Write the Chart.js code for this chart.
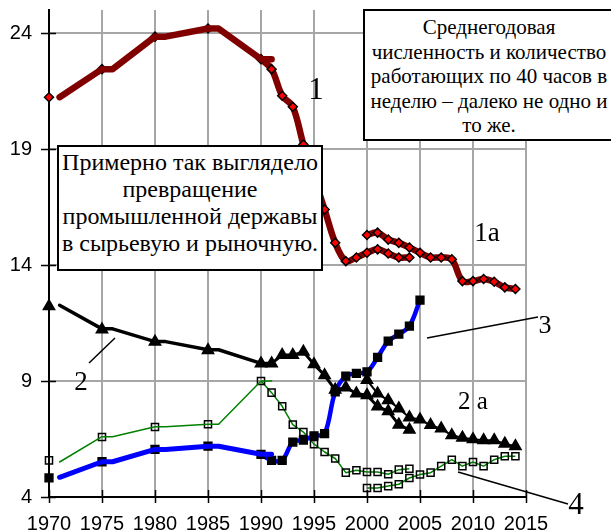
<!DOCTYPE html>
<html>
<head>
<meta charset="utf-8">
<script src="https://cdn.jsdelivr.net/npm/chart.js@4/dist/chart.umd.min.js"></script>
<style>
  html, body { margin: 0; padding: 0; background: #fff; }
  #wrap { position: relative; width: 611px; height: 532px; overflow: hidden; }
  canvas { position: absolute; left: 0; top: 0; }
  .box { position: absolute; box-sizing: border-box; border: 2px solid #000; background: #fff;
         font-family: "Liberation Serif", "Times New Roman", serif; color: #000; text-align: center; }
  .lbl { position: absolute; font-family: "Liberation Serif", "Times New Roman", serif; color: #000;
         line-height: 1; transform: translate(-50%, -50%); white-space: nowrap; }
</style>
</head>
<body>
<div id="wrap">
  <canvas id="c" width="611" height="532"></canvas>
  <div class="box" style="left:363px; top:9px; width:252px; height:132px; font-size:21px; line-height:24.5px; padding-top:4px;">Среднегодовая<br>численность и количество<br>работающих по 40 часов в<br>неделю – далеко не одно и<br>то же.</div>
  <div class="box" style="left:57px; top:145px; width:266px; height:126px; font-size:24px; line-height:27px; padding-top:2px; white-space:nowrap;">Примерно так выглядело<br>превращение<br>промышленной державы<br>в сырьевую и рыночную.</div>
  <div class="lbl" style="left:316px; top:88px; font-size:31px;">1</div>
  <div class="lbl" style="left:487px; top:232px; font-size:27px;">1a</div>
  <div class="lbl" style="left:545px; top:325px; font-size:26px;">3</div>
  <div class="lbl" style="left:81px; top:381px; font-size:27px;">2</div>
  <div class="lbl" style="left:473px; top:400px; font-size:25px;">2 a</div>
  <div class="lbl" style="left:576px; top:503px; font-size:31px;">4</div>
</div>
<script>
// ---- data ----
const yearTicks = [1970, 1975, 1980, 1985, 1990, 1995, 2000, 2005, 2010, 2015];
const valueTicks = [4, 9, 14, 19, 24];

const earlyLineYears = [1971, 1975, 1976, 1980, 1981, 1985, 1986, 1990, 1991];
const earlyMarkYears = [1970, 1975, 1980, 1985];
const lateAYears = [1990, 1991, 1992, 1993, 1994, 1995, 1996, 1997, 1998, 1999, 2000, 2001, 2002, 2003, 2004];
const late3Years = [1990, 1991, 1992, 1993, 1994, 1995, 1996, 1997, 1998, 1999, 2000, 2001, 2002, 2003, 2004, 2005];
const lateBYears = [2000, 2001, 2002, 2003, 2004, 2005, 2006, 2007, 2008, 2009, 2010, 2011, 2012, 2013, 2014];

// Series 1 / 1a (dark red)
const s1EarlyLine = [21.24, 22.45, 22.45, 23.85, 23.85, 24.2, 24.2, 22.88, 22.88];
const s1EarlyMarks = [21.24, 22.45, 23.85, 24.2];
const s1LateA = [22.88, 22.45, 21.3, 20.83, 19.2, 17.8, 16.4, 14.96, 14.17, 14.33, 14.53, 14.68, 14.5, 14.33, 14.33];
const s1LateB = [15.3, 15.4, 15.1, 14.96, 14.76, 14.53, 14.33, 14.33, 14.25, 13.31, 13.31, 13.4, 13.28, 13.04, 12.97];

// Series 2 / 2a (black, triangles)
const s2EarlyLine = [12.27, 11.25, 11.25, 10.7, 10.7, 10.35, 10.35, 9.76, 9.76];
const s2EarlyMarks = [12.22, 11.22, 10.69, 10.33];
const s2LateA = [9.76, 9.76, 10.12, 10.12, 10.26, 9.72, 9.25, 8.62, 8.72, 8.46, 8.39, 7.9, 7.7, 7.12, 6.9];
const s2LateB = [9.04, 8.46, 8.17, 7.82, 7.43, 7.34, 7.1, 6.95, 6.66, 6.56, 6.49, 6.45, 6.45, 6.3, 6.19];

// Series 3 (blue, filled squares)
const s3EarlyLine = [4.85, 5.52, 5.52, 6.05, 6.05, 6.19, 6.19, 5.84, 5.84];
const s3EarlyMarks = [4.82, 5.52, 6.05, 6.19];
const s3Late = [5.84, 5.58, 5.58, 6.37, 6.45, 6.64, 6.73, 8.53, 9.21, 9.33, 9.4, 10.02, 10.72, 11.02, 11.37, 12.49];

// Series 4 (green, hollow squares)
const s4EarlyLine = [5.51, 6.6, 6.6, 7.03, 7.03, 7.14, 7.14, 9.0, 9.0];
const s4EarlyMarks = [5.58, 6.59, 7.02, 7.14];
const s4LateA = [9.0, 8.5, 7.91, 7.12, 6.8, 6.28, 5.94, 5.66, 5.05, 5.15, 5.08, 5.08, 4.98, 5.18, 5.22];
const s4LateB = [4.39, 4.39, 4.47, 4.55, 4.82, 4.97, 5.05, 5.33, 5.61, 5.33, 5.51, 5.33, 5.61, 5.76, 5.76];

// ---- helpers ----
const pts = (xs, ys) => xs.map((x, i) => ({ x: x, y: ys[i] }));
function lineDs(xs, ys, color, width, tension) {
  return { data: pts(xs, ys), borderColor: color, borderWidth: width, pointRadius: 0, clip: false,
           tension: tension || 0, fill: false, borderCapStyle: 'round', borderJoinStyle: 'round' };
}
function markDs(xs, ys, color, width, tension, style, radius, bg, showLine) {
  return { data: pts(xs, ys), borderColor: color, borderWidth: width, tension: tension || 0, clip: false,
           showLine: showLine !== false, fill: false, borderJoinStyle: 'round',
           pointStyle: style, pointRadius: radius, pointBackgroundColor: bg,
           pointBorderColor: '#000', pointBorderWidth: 1.5 };
}

const MAROON = '#800000', BLUE = '#0000ff', GREEN = '#008000', BLACK = '#000000';

const datasets = [
  // top-most first
  lineDs(earlyLineYears, s2EarlyLine, BLACK, 3.5),
  markDs(earlyMarkYears, s2EarlyMarks, BLACK, 0, 0, 'triangle', 6.5, BLACK, false),
  markDs(lateAYears, s2LateA, BLACK, 3, 0, 'triangle', 6.5, BLACK),
  markDs(lateBYears, s2LateB, BLACK, 2, 0, 'triangle', 6.5, BLACK),
  lineDs(earlyLineYears, s3EarlyLine, BLUE, 5),
  markDs(earlyMarkYears, s3EarlyMarks, BLUE, 0, 0, 'rect', 5.5, BLACK, false),
  markDs(late3Years, s3Late, BLUE, 4.5, 0.35, 'rect', 5.5, BLACK),
  lineDs(earlyLineYears, s4EarlyLine, GREEN, 1.5),
  markDs(earlyMarkYears, s4EarlyMarks, GREEN, 0, 0, 'rect', 5, 'rgba(255,255,255,0)', false),
  markDs(lateAYears, s4LateA, GREEN, 1.5, 0, 'rect', 5, 'rgba(255,255,255,0)'),
  markDs(lateBYears, s4LateB, GREEN, 1.5, 0, 'rect', 5, 'rgba(255,255,255,0)'),
  lineDs(earlyLineYears, s1EarlyLine, MAROON, 6.5),
  markDs(earlyMarkYears, s1EarlyMarks, MAROON, 0, 0, 'rectRot', 4.5, '#ff0000', false),
  markDs(lateAYears, s1LateA, MAROON, 6.5, 0.35, 'rectRot', 4.5, '#ff0000'),
  markDs(lateBYears, s1LateB, MAROON, 6.5, 0.35, 'rectRot', 4.5, '#ff0000')
];

const crossTicks = {
  id: 'crossTicks',
  beforeDatasetsDraw(chart) {
    const ctx = chart.ctx, xs = chart.scales.x, ys = chart.scales.y, a = chart.chartArea;
    ctx.save();
    ctx.strokeStyle = '#000';
    ctx.lineWidth = 1.5;
    ctx.beginPath();
    valueTicks.forEach(v => { const y = Math.round(ys.getPixelForValue(v)) + 0.5; ctx.moveTo(a.left - 8, y); ctx.lineTo(a.left + 7, y); });
    yearTicks.forEach(v => { const x = Math.round(xs.getPixelForValue(v)) + 0.5; ctx.moveTo(x, a.bottom - 7); ctx.lineTo(x, a.bottom + 6); });
    ctx.stroke();
    ctx.restore();
  },
  afterDraw(chart) {
    const ctx = chart.ctx;
    ctx.save();
    ctx.strokeStyle = '#000';
    ctx.lineWidth = 1.5;
    ctx.beginPath();
    ctx.moveTo(89, 363); ctx.lineTo(115, 338);
    ctx.moveTo(427, 338); ctx.lineTo(538, 317);
    ctx.moveTo(458, 472); ctx.lineTo(568, 504);
    ctx.stroke();
    ctx.restore();
  }
};

new Chart(document.getElementById('c'), {
  type: 'line',
  data: { datasets: datasets },
  options: {
    responsive: false,
    animation: false,
    events: [],
    layout: { padding: { top: 10, right: 85, left: 0, bottom: 0 } },
    plugins: { legend: { display: false }, tooltip: { enabled: false } },
    scales: {
      x: {
        type: 'linear', min: 1970, max: 2015,
        afterBuildTicks: (s) => { s.ticks = yearTicks.map(v => ({ value: v })); },
        afterFit: (s) => { s.height = 35; s.paddingLeft = 0; s.paddingRight = 0; },
        ticks: { color: '#000', font: { family: '"Liberation Sans", Arial, sans-serif', size: 20 }, padding: 15,
                 maxRotation: 0, autoSkip: false, callback: (v) => String(v) },
        grid: { color: '#a6a6a6', lineWidth: 2, drawTicks: false },
        border: { display: true, color: '#000', width: 2 }
      },
      y: {
        type: 'linear', min: 4, max: 25,
        afterBuildTicks: (s) => { s.ticks = valueTicks.map(v => ({ value: v })); },
        afterFit: (s) => { s.width = 49; s.paddingTop = 0; s.paddingBottom = 0; },
        ticks: { color: '#000', font: { family: '"Liberation Sans", Arial, sans-serif', size: 20 }, padding: 17,
                 callback: (v) => String(v) },
        grid: { color: '#a6a6a6', lineWidth: 2, drawTicks: false },
        border: { display: true, color: '#000', width: 2 }
      }
    }
  },
  plugins: [crossTicks]
});
</script>
</body>
</html>
